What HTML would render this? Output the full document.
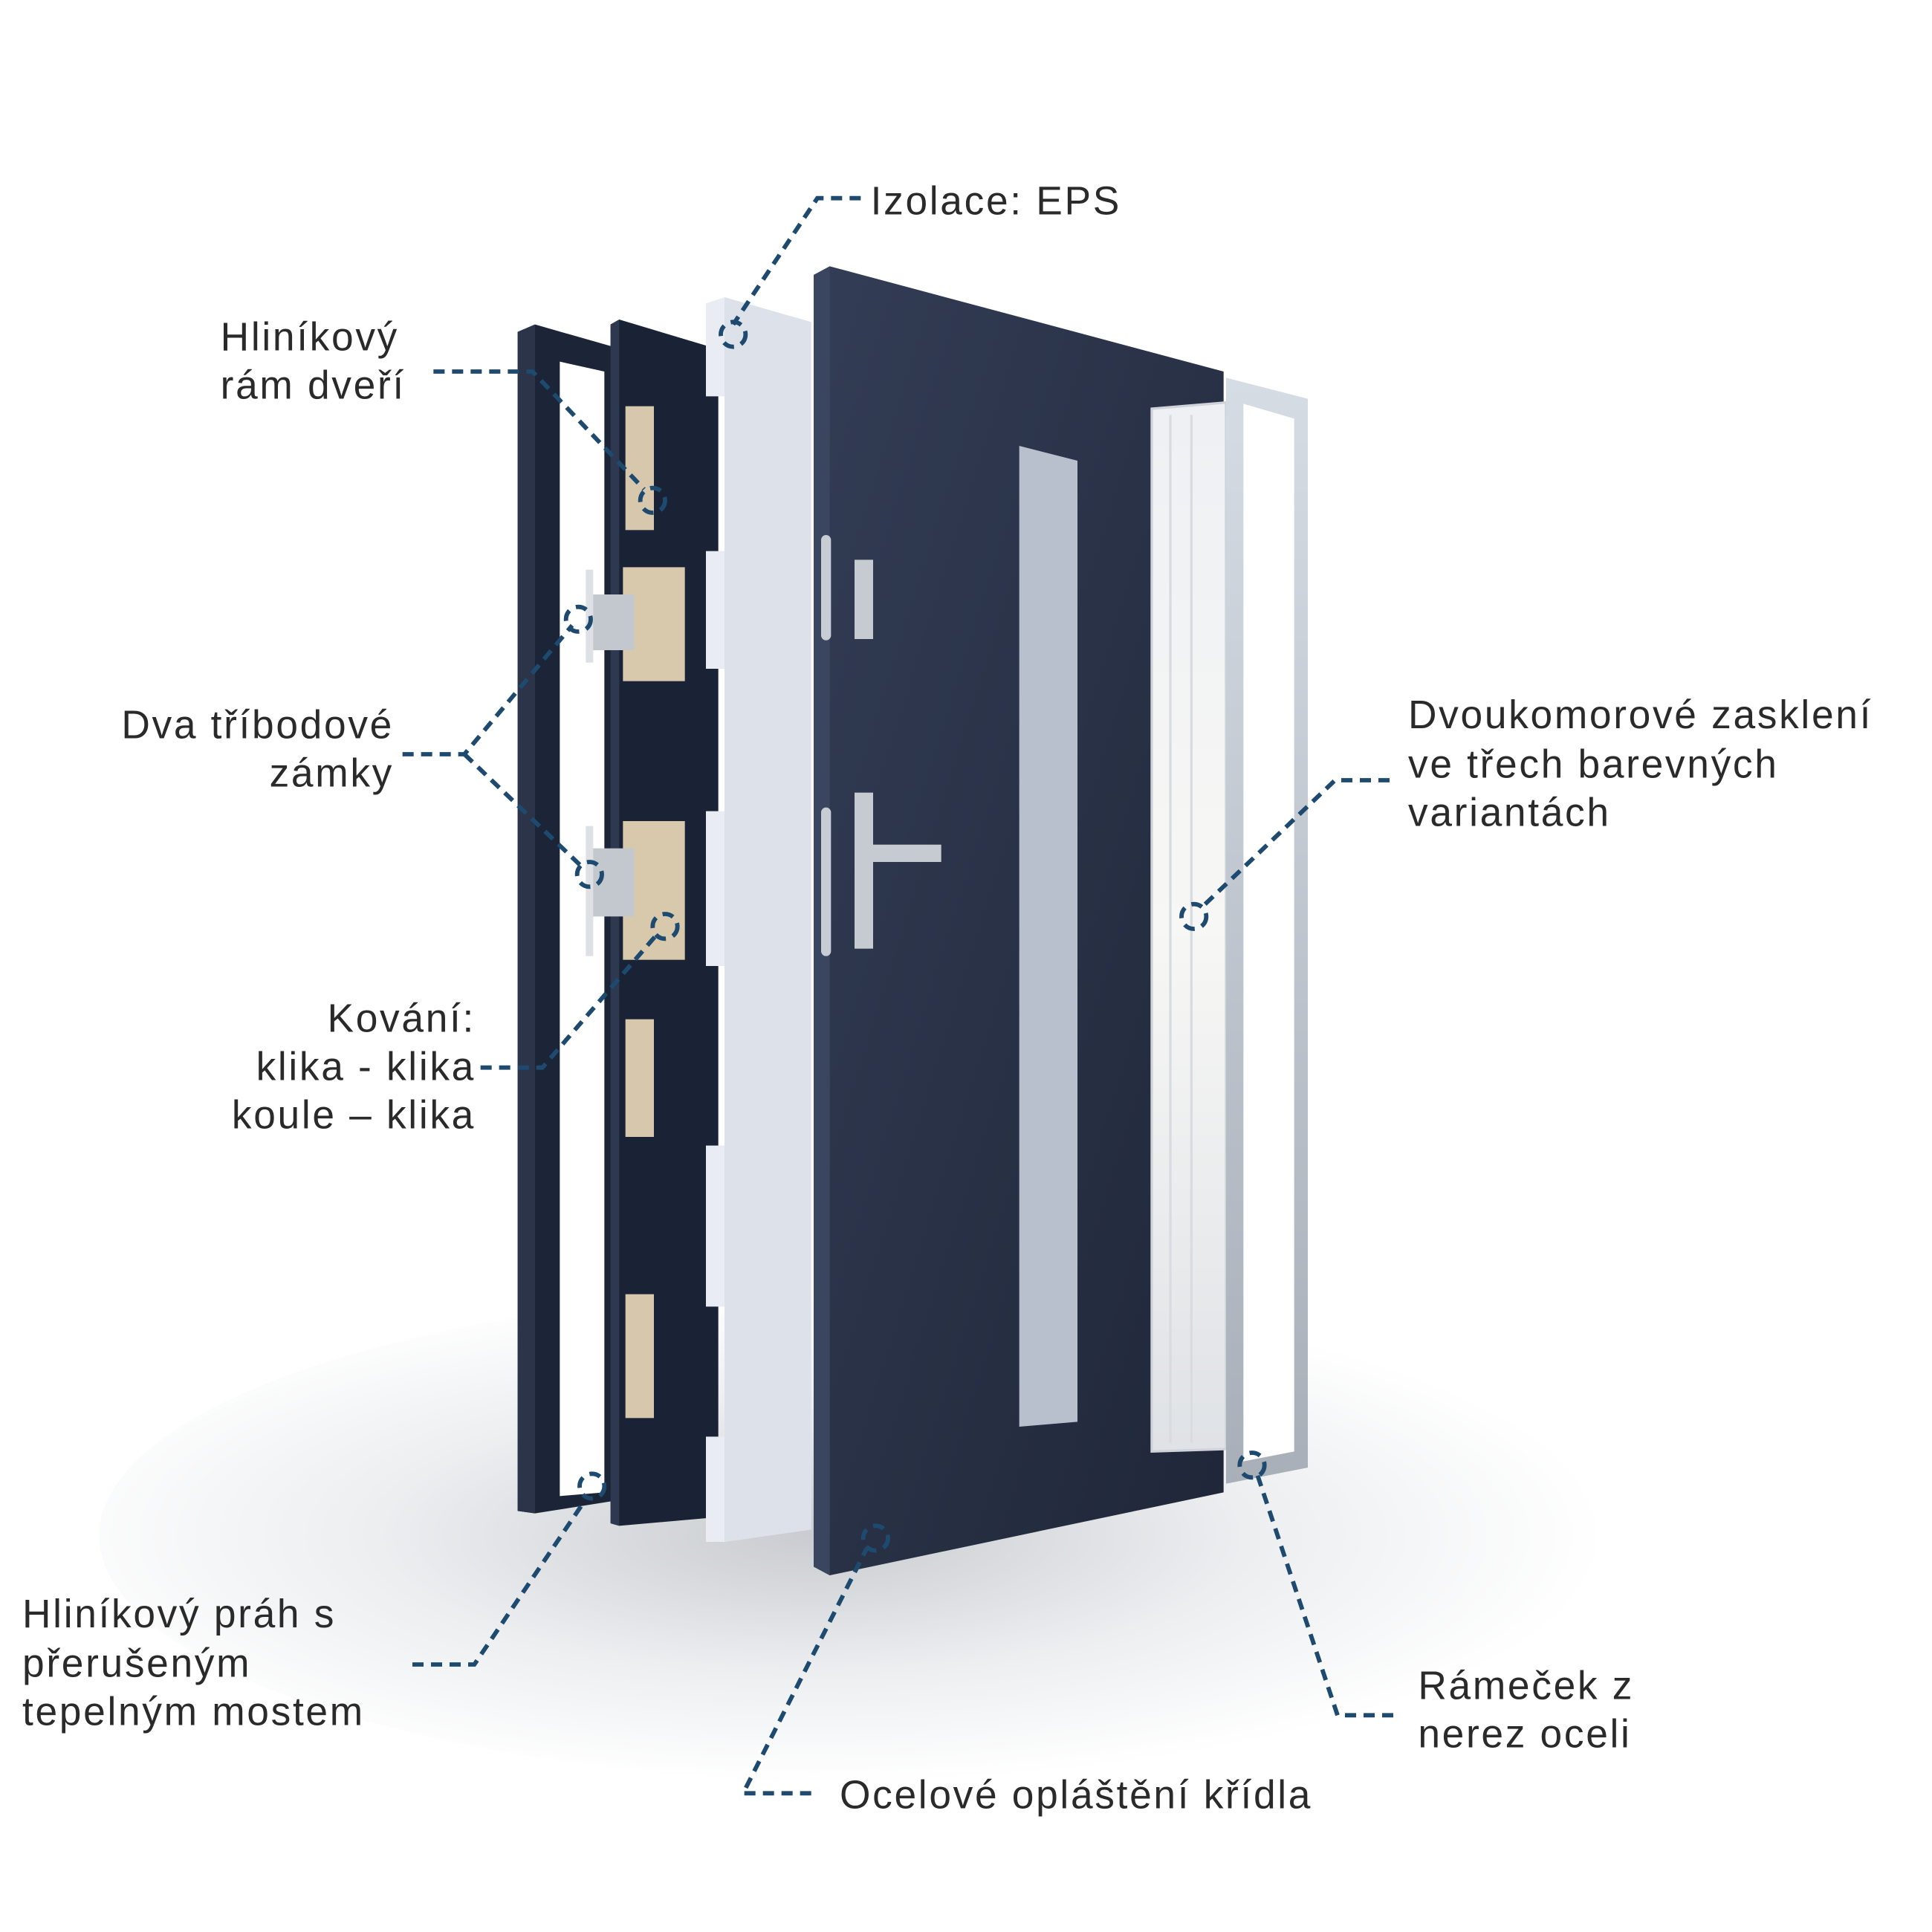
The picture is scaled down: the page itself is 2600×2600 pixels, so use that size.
<!DOCTYPE html>
<html><head><meta charset="utf-8"><style>
html,body{margin:0;padding:0;background:#fff;}
svg{display:block}
text{font-family:"Liberation Sans",sans-serif;font-size:32px;letter-spacing:1.6px;fill:#2a2a2a;}
.d{stroke:#1d4a6e;stroke-width:3.5;stroke-dasharray:9 6;fill:none}
</style></head><body>
<svg width="2600" height="2600" viewBox="0 0 1560 1560" xmlns="http://www.w3.org/2000/svg">
<defs>
<radialGradient id="sh" cx="0.45" cy="0.5" r="0.5">
<stop offset="0" stop-color="#c9ccd0"/><stop offset="0.55" stop-color="#eceef0"/><stop offset="1" stop-color="#fff"/>
</radialGradient>
<linearGradient id="dr" x1="0" y1="0" x2="1" y2="1">
<stop offset="0" stop-color="#333d55"/><stop offset="1" stop-color="#1f2638"/>
</linearGradient>
<linearGradient id="gl" x1="0" y1="0" x2="0" y2="1">
<stop offset="0" stop-color="#eef0f3"/><stop offset="0.5" stop-color="#f7f7f5"/><stop offset="1" stop-color="#dfe2e6"/>
</linearGradient>
<linearGradient id="ss" x1="0" y1="0" x2="0" y2="1">
<stop offset="0" stop-color="#d6dce4"/><stop offset="1" stop-color="#a9afb8"/>
</linearGradient>
</defs>
<rect width="1560" height="1560" fill="#fff"/>
<ellipse cx="720" cy="1240" rx="640" ry="200" fill="url(#sh)"/>
<polygon points="418,268 432,262 495,280 495,1212 432,1222 418,1220" fill="#1c2437"/>
<polygon points="452,292 488,300 488,1205 452,1208" fill="#fff"/>
<polygon points="418,268 432,262 432,1222 418,1220" fill="#2b3448"/>
<polygon points="493,262 500,258 580,282 580,1225 500,1232 493,1230" fill="#1a2236"/>
<polygon points="493,262 500,258 500,1232 493,1230" fill="#2e3850"/>
<rect x="505" y="328" width="23" height="100" fill="#d6c7ad"/>
<rect x="503" y="458" width="50" height="92" fill="#d9c9ac"/>
<rect x="503" y="663" width="50" height="112" fill="#d9c9ac"/>
<rect x="505" y="823" width="23" height="95" fill="#d6c7ad"/>
<rect x="505" y="1045" width="23" height="100" fill="#d6c7ad"/>
<rect x="474" y="480" width="38" height="45" fill="#c3c8ce"/>
<rect x="474" y="685" width="38" height="55" fill="#c3c8ce"/>
<rect x="473" y="460" width="6" height="75" fill="#dde1e5"/>
<rect x="473" y="667" width="6" height="105" fill="#dde1e5"/>
<polygon points="570,245 585,240 655,260 655,1235 585,1245 570,1245 570,1160 600,1160 600,1055 570,1055 570,925 600,925 600,780 570,780 570,655 605,655 605,540 570,540 570,445 605,445 605,320 570,320" fill="#e9ecf2"/>
<polygon points="585,240 655,260 655,1235 585,1245" fill="#dde2ea"/>
<polygon points="657,222 670,215 988,300 988,1205 670,1272 657,1265" fill="url(#dr)"/>
<polygon points="657,222 670,215 670,1272 657,1265" fill="#3a4560"/>
<polygon points="823,360 870,372 870,1148 823,1152" fill="#b9c0cd"/>
<rect x="663" y="432" width="8" height="85" rx="4" fill="#c8cdd3"/>
<rect x="663" y="652" width="8" height="120" rx="4" fill="#c8cdd3"/>
<rect x="690" y="452" width="15" height="64" fill="#c6cbd1"/>
<rect x="690" y="640" width="15" height="126" fill="#c6cbd1"/>
<rect x="695" y="682" width="65" height="14" fill="#c6cbd1"/>
<polygon points="930,330 990,325 990,1170 930,1172" fill="url(#gl)" stroke="#d0d4da" stroke-width="2"/>
<line x1="945" y1="335" x2="945" y2="1165" stroke="#d8dbe0" stroke-width="2"/>
<line x1="962" y1="335" x2="962" y2="1165" stroke="#d8dbe0" stroke-width="2"/>
<polygon points="990,305 1056,322 1056,1185 990,1198" fill="url(#ss)"/>
<polygon points="1004,326 1045,338 1045,1172 1004,1180" fill="#fff"/>
<path class="d" d="M695,160 H660 L592,262"/><circle cx="592" cy="270" r="10" class="d"/>
<path class="d" d="M350,300 H430 L520,395"/><circle cx="527" cy="404" r="10" class="d"/>
<path class="d" d="M325,609 H375 L462,505 M375,609 L470,700"/><circle cx="467" cy="500" r="10" class="d"/><circle cx="476" cy="706" r="10" class="d"/>
<path class="d" d="M388,862 H438 L530,755"/><circle cx="537" cy="748" r="10" class="d"/>
<path class="d" d="M333,1344 H383 L472,1212"/><circle cx="478" cy="1200" r="10" class="d"/>
<path class="d" d="M655,1448 H600 L700,1250"/><circle cx="707" cy="1242" r="10" class="d"/>
<path class="d" d="M1125,1385 H1080 L1015,1190"/><circle cx="1011" cy="1183" r="10" class="d"/>
<path class="d" d="M1122,630 H1078 L970,733"/><circle cx="964" cy="740" r="10" class="d"/>
<text x="703" y="173">Izolace: EPS</text>
<text x="178" y="283">Hliníkový</text>
<text x="178" y="322">rám dveří</text>
<text x="318" y="596" text-anchor="end">Dva tříbodové</text>
<text x="318" y="635" text-anchor="end">zámky</text>
<text x="384" y="833" text-anchor="end">Kování:</text>
<text x="384" y="872" text-anchor="end">klika - klika</text>
<text x="384" y="911" text-anchor="end">koule – klika</text>
<text x="1137" y="588">Dvoukomorové zasklení</text>
<text x="1137" y="628">ve třech barevných</text>
<text x="1137" y="667">variantách</text>
<text x="18" y="1314">Hliníkový práh s</text>
<text x="18" y="1354">přerušeným</text>
<text x="18" y="1393">tepelným mostem</text>
<text x="1145" y="1372">Rámeček z</text>
<text x="1145" y="1411">nerez oceli</text>
<text x="678" y="1460">Ocelové opláštění křídla</text>
</svg>
</body></html>
